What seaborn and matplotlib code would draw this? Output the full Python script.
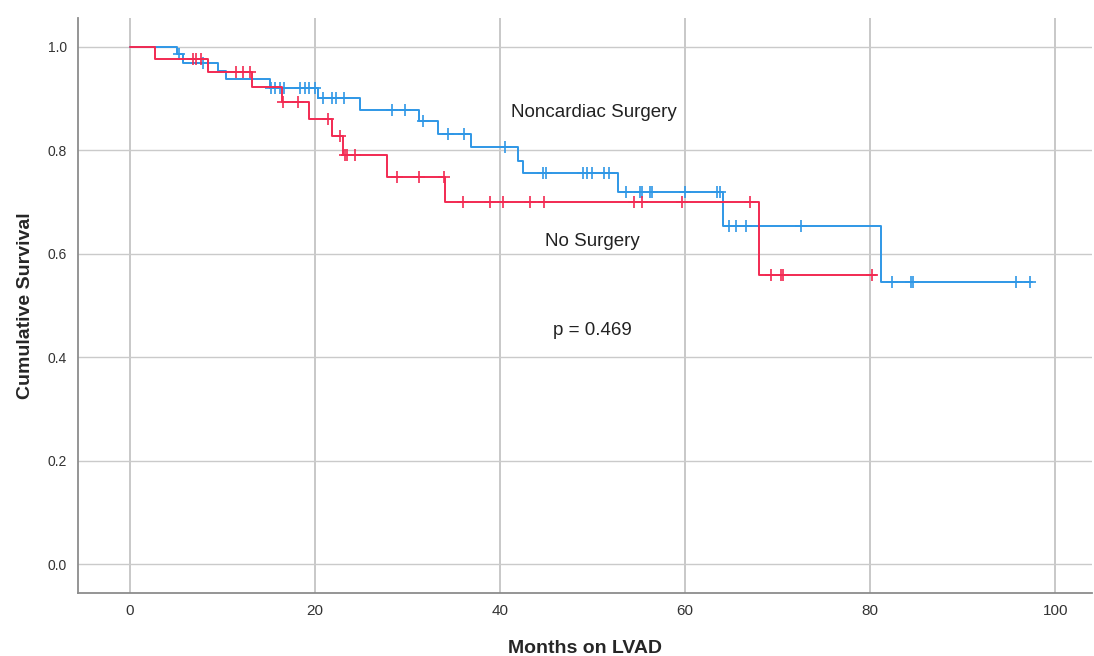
import numpy as np
import pandas as pd
import matplotlib
matplotlib.use("Agg")
import matplotlib.pyplot as plt
import seaborn as sns

# Kaplan-Meier steps: month of each drop and survival after it
surg_times = [0, 5.1, 5.7, 9.5, 10.4, 15.1, 20.3, 24.9, 31.3, 33.3, 36.9, 42.0, 42.5, 52.8, 64.1, 81.2]
surg_surv = [1.0, 0.985, 0.969, 0.953, 0.937, 0.920, 0.901, 0.878, 0.857, 0.832, 0.806, 0.780, 0.755, 0.720, 0.654, 0.546]
surg_end = 97.5
surg_censor = [5.3, 7.9, 15.3, 15.7, 16.2, 16.7, 18.4, 18.9, 19.4, 20.0, 20.9, 21.8, 22.3, 23.2,
               28.3, 29.7, 31.7, 34.4, 36.1, 40.5, 44.6, 45.0, 49.0, 49.4, 49.9, 51.2, 51.8,
               53.6, 55.1, 55.3, 56.2, 56.4, 60.0, 63.5, 63.8, 64.8, 65.5, 66.6, 72.5,
               82.4, 84.4, 84.6, 95.8, 97.3]

nosurg_times = [0, 2.7, 8.5, 13.2, 16.5, 19.4, 21.8, 23.0, 27.8, 34.1, 68.0]
nosurg_surv = [1.0, 0.977, 0.952, 0.923, 0.894, 0.860, 0.827, 0.791, 0.749, 0.699, 0.559]
nosurg_end = 80.6
nosurg_censor = [6.8, 7.2, 7.7, 11.5, 12.2, 13.0, 16.6, 18.2, 21.4, 22.7, 23.3, 23.5, 24.3,
                 28.9, 31.3, 34.0, 36.0, 38.9, 40.3, 43.2, 44.8, 54.5, 55.4, 59.7, 67.0,
                 69.3, 70.4, 70.6, 80.2]

x_ticks = [0, 20, 40, 60, 80, 100]
y_ticks = [0.0, 0.2, 0.4, 0.6, 0.8, 1.0]

blue = "#2f97e6"
red = "#f22a52"


def step_frame(times, surv, end):
    return pd.DataFrame({"month": list(times) + [end], "surv": list(surv) + [surv[-1]]})


def censor_frame(times, surv, cens):
    idx = np.searchsorted(times, cens, side="right") - 1
    return pd.DataFrame({"month": cens, "surv": np.array(surv)[idx]})


sns.set_style("white")
plt.rcParams["font.family"] = ["Liberation Sans", "DejaVu Sans"]

fig = plt.figure(figsize=(10.94, 6.56), dpi=100)
ax = fig.add_axes([0.0713, 0.096, 0.927, 0.877])

for times, surv, end, cens, col in [
    (surg_times, surg_surv, surg_end, surg_censor, blue),
    (nosurg_times, nosurg_surv, nosurg_end, nosurg_censor, red),
]:
    sns.lineplot(data=step_frame(times, surv, end), x="month", y="surv", ax=ax,
                 drawstyle="steps-post", estimator=None, sort=False, color=col, lw=1.4)
    cf = censor_frame(times, surv, cens)
    ax.plot(cf["month"], cf["surv"], ls="none", marker="+", ms=8, mew=1.2, color=col)

ax.set_xlim(-5.6, 104.0)
ax.set_ylim(-0.056, 1.056)
ax.set_xticks(x_ticks)
ax.set_yticks(y_ticks)
ax.set_yticklabels([f"{v:.1f}" for v in y_ticks], fontsize=10, color="#333333")
ax.set_xticklabels([str(v) for v in x_ticks], fontsize=11, color="#333333",
                   family=["Liberation Sans Narrow", "Liberation Sans"])
ax.tick_params(length=0, pad=8)
ax.tick_params(axis="x", pad=8)

ax.grid(False)
for v in x_ticks:
    ax.axvline(v, color="#c4c4c4", lw=1.3, zorder=0)
for v in y_ticks:
    ax.axhline(v, color="#cacaca", lw=1.0, zorder=0)

for s in ["top", "right"]:
    ax.spines[s].set_visible(False)
for s in ["left", "bottom"]:
    ax.spines[s].set_color("#8c8c8c")
    ax.spines[s].set_linewidth(1.3)

ax.set_xlabel("Months on LVAD", fontsize=14, fontweight="bold", labelpad=16)
ax.set_ylabel("Cumulative Survival", fontsize=14, fontweight="bold", labelpad=10)

ax.text(50.1, 0.872, "Noncardiac Surgery", fontsize=13.5, ha="center", va="center", color="#222222")
ax.text(50.0, 0.623, "No Surgery", fontsize=13.5, ha="center", va="center", color="#222222")
ax.text(50.0, 0.451, "p = 0.469", fontsize=13.5, ha="center", va="center", color="#222222")

fig.savefig("out.png", dpi=100)
